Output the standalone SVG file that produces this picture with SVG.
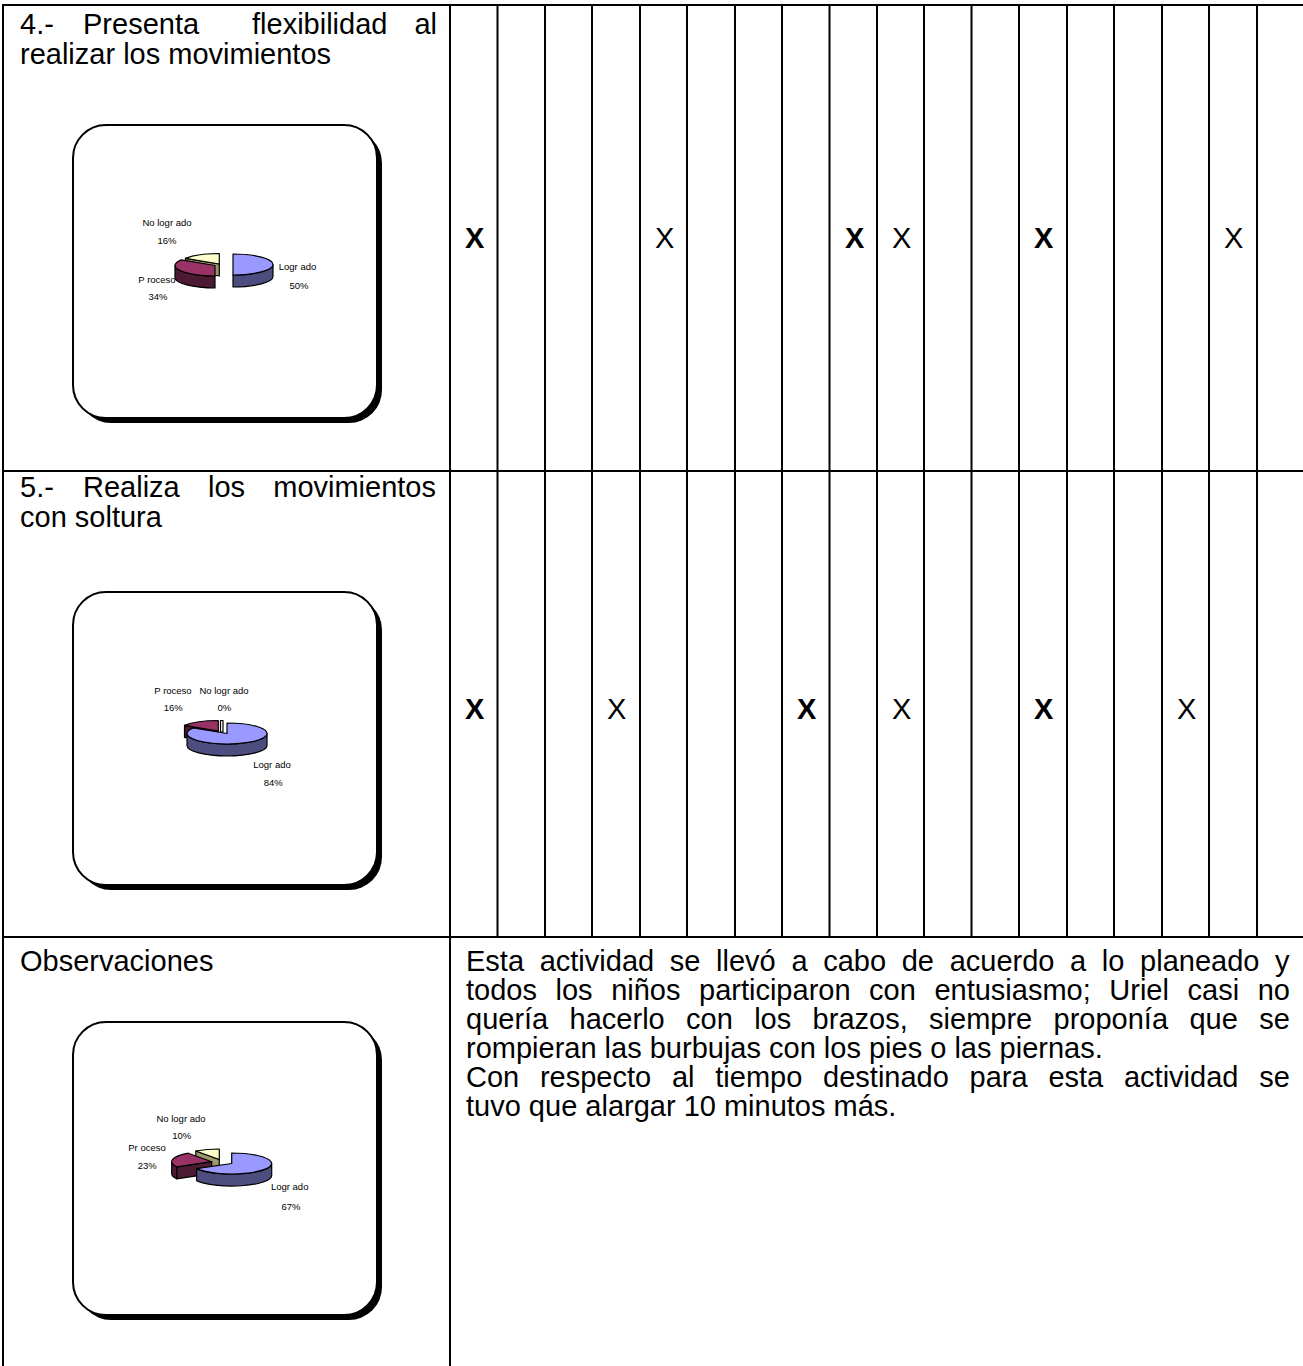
<svg xmlns="http://www.w3.org/2000/svg" width="1303" height="1366" viewBox="0 0 1303 1366">
<style>
.t{font-family:"Liberation Sans",Arial,sans-serif;font-size:29px;fill:#000}
.b{font-weight:bold}
.e{text-anchor:end}
.lbl{font-family:"Liberation Sans",Arial,sans-serif;font-size:9.5px;fill:#000;text-anchor:middle}
.grid line{stroke:#000;stroke-width:2}
.box{fill:#fff;stroke:#000;stroke-width:2}
.shadow{fill:#000}
.pie path{stroke:#000;stroke-width:1.2;stroke-linejoin:round}
.bt{fill:#9999ff}.bs{fill:#4d4d80}.mt{fill:#993366}.ms{fill:#4d1a33}.yt{fill:#ffffcc}.ys{fill:#99996b}.wt{fill:#fff}
</style>
<rect width="1303" height="1366" fill="#fff"/>
<g id="table-grid" class="grid">
<line x1="2" y1="5" x2="1303" y2="5"/>
<line x1="3" y1="4" x2="3" y2="1366"/>
<line x1="2" y1="471" x2="1303" y2="471"/>
<line x1="2" y1="937" x2="1303" y2="937"/>
<line x1="450" y1="4" x2="450" y2="1366"/>
<line x1="497.5" y1="4" x2="497.5" y2="937"/>
<line x1="545" y1="4" x2="545" y2="937"/>
<line x1="592" y1="4" x2="592" y2="937"/>
<line x1="640" y1="4" x2="640" y2="937"/>
<line x1="687" y1="4" x2="687" y2="937"/>
<line x1="735" y1="4" x2="735" y2="937"/>
<line x1="782" y1="4" x2="782" y2="937"/>
<line x1="829.5" y1="4" x2="829.5" y2="937"/>
<line x1="877" y1="4" x2="877" y2="937"/>
<line x1="924" y1="4" x2="924" y2="937"/>
<line x1="971.5" y1="4" x2="971.5" y2="937"/>
<line x1="1019" y1="4" x2="1019" y2="937"/>
<line x1="1067" y1="4" x2="1067" y2="937"/>
<line x1="1114" y1="4" x2="1114" y2="937"/>
<line x1="1162" y1="4" x2="1162" y2="937"/>
<line x1="1209" y1="4" x2="1209" y2="937"/>
<line x1="1257" y1="4" x2="1257" y2="937"/>
</g>

<g id="row4">
<text class="t" x="20" y="34">4.-</text>
<text class="t" x="83" y="34">Presenta</text>
<text class="t" x="252" y="34">flexibilidad</text>
<text class="t e" x="437" y="34">al</text>
<text class="t" x="20" y="64">realizar los movimientos</text>
<g id="chart1">
<rect class="shadow" x="78" y="130" width="304" height="293" rx="33"/>
<rect class="box" x="73" y="125" width="304" height="293" rx="33"/>
<g class="pie">
<path class="ys" d="M219.3,264 L185.5,258.4 L185.5,270.4 L219.3,276 Z"/>
<path class="yt" d="M219.3,264 L185.5,258.4 A40,10.5 0 0 1 219.3,253.5 Z"/>
<path class="ms" d="M215,276 A40,10.5 0 0 1 175,265.5 L175,277.5 A40,10.5 0 0 0 215,288 Z"/>
<path class="mt" d="M215,265.5 L215,276 A40,10.5 0 0 1 181.2,259.9 Z"/>
<path class="bs" d="M273,264.5 A40,10.5 0 0 1 233,275 L233,287 A40,10.5 0 0 0 273,276.5 Z"/>
<path class="bt" d="M233,264.5 L233,254 A40,10.5 0 0 1 273,264.5 A40,10.5 0 0 1 233,275 Z"/>
</g>
<text class="lbl" x="167" y="226">No logr ado</text>
<text class="lbl" x="167" y="244">16%</text>
<text class="lbl" x="157" y="282.5">P roceso</text>
<text class="lbl" x="158" y="300">34%</text>
<text class="lbl" x="297.5" y="270">Logr ado</text>
<text class="lbl" x="299" y="288.5">50%</text>
</g>
<text class="t b" x="465" y="248">X</text>
<text class="t" x="655" y="248">X</text>
<text class="t b" x="845" y="248">X</text>
<text class="t" x="892" y="248">X</text>
<text class="t b" x="1034" y="248">X</text>
<text class="t" x="1224" y="248">X</text>
</g>

<g id="row5">
<text class="t" x="20" y="497">5.-</text>
<text class="t" x="83" y="497">Realiza</text>
<text class="t" x="208" y="497">los</text>
<text class="t e" x="436" y="497">movimientos</text>
<text class="t" x="20" y="527">con soltura</text>
<g id="chart2">
<rect class="shadow" x="78" y="597" width="304" height="293" rx="33"/>
<rect class="box" x="73" y="592" width="304" height="293" rx="33"/>
<g class="pie">
<path class="ms" d="M218.3,731 L184.5,725.4 L184.5,737.4 L218.3,743 Z"/>
<path class="mt" d="M218.3,731 L184.5,725.4 A40,10.5 0 0 1 218.3,720.5 Z"/>
<path class="wt" d="M220.5,732 L220.5,720.5 L223,720.5 L223,732 Z"/>
<path class="bs" d="M267,733.5 A40,10.5 0 0 1 187,733.5 L187,745.5 A40,10.5 0 0 0 267,745.5 Z"/>
<path class="bt" d="M227,733.5 L227,723 A40,10.5 0 1 1 193.2,727.9 Z"/>
</g>
<text class="lbl" x="173" y="693.5">P roceso</text>
<text class="lbl" x="224" y="693.5">No logr ado</text>
<text class="lbl" x="173.3" y="711">16%</text>
<text class="lbl" x="224.3" y="711">0%</text>
<text class="lbl" x="272" y="767.5">Logr ado</text>
<text class="lbl" x="273.3" y="785.5">84%</text>
</g>
<text class="t b" x="465" y="719">X</text>
<text class="t" x="607" y="719">X</text>
<text class="t b" x="797" y="719">X</text>
<text class="t" x="892" y="719">X</text>
<text class="t b" x="1034" y="719">X</text>
<text class="t" x="1177" y="719">X</text>
</g>

<g id="observaciones">
<text class="t" x="20" y="971">Observaciones</text>
<g id="chart3">
<rect class="shadow" x="78" y="1027" width="304" height="293" rx="33"/>
<rect class="box" x="73" y="1022" width="304" height="293" rx="33"/>
<g class="pie">
<path class="ys" d="M219.3,1159.5 L195.8,1151 L195.8,1163 L219.3,1171.5 Z"/>
<path class="yt" d="M219.3,1159.5 L195.8,1151 A40,10.5 0 0 1 219.3,1149 Z"/>
<path class="ms" d="M211.7,1161.7 L176.6,1166.8 L176.6,1178.8 L211.7,1173.7 Z"/>
<path class="ms" d="M176.6,1166.8 A40,10.5 0 0 1 171.7,1161.7 L171.7,1173.7 A40,10.5 0 0 0 176.6,1178.8 Z"/>
<path class="mt" d="M211.7,1161.7 L176.6,1166.8 A40,10.5 0 0 1 188.2,1153.2 Z"/>
<path class="bs" d="M271.7,1163.5 A40,10.5 0 0 1 196.6,1168.6 L196.6,1180.6 A40,10.5 0 0 0 271.7,1175.5 Z"/>
<path class="bt" d="M231.7,1163.5 L231.7,1153 A40,10.5 0 1 1 196.6,1168.6 Z"/>
</g>
<text class="lbl" x="181" y="1121.5">No logr ado</text>
<text class="lbl" x="181.7" y="1138.5">10%</text>
<text class="lbl" x="147" y="1150.5">Pr oceso</text>
<text class="lbl" x="147.3" y="1169">23%</text>
<text class="lbl" x="289.7" y="1190">Logr ado</text>
<text class="lbl" x="291" y="1209.5">67%</text>
</g>
<text class="t" x="466" y="971" word-spacing="7.6">Esta actividad se llevó a cabo de acuerdo a lo planeado y</text>
<text class="t" x="466" y="1000" word-spacing="10.5">todos los niños participaron con entusiasmo; Uriel casi no</text>
<text class="t" x="466" y="1029" word-spacing="13.3">quería hacerlo con los brazos, siempre proponía que se</text>
<text class="t" x="466" y="1058">rompieran las burbujas con los pies o las piernas.</text>
<text class="t" x="466" y="1087" word-spacing="12.7">Con respecto al tiempo destinado para esta actividad se</text>
<text class="t" x="466" y="1116">tuvo que alargar 10 minutos más.</text>
</g>
</svg>
